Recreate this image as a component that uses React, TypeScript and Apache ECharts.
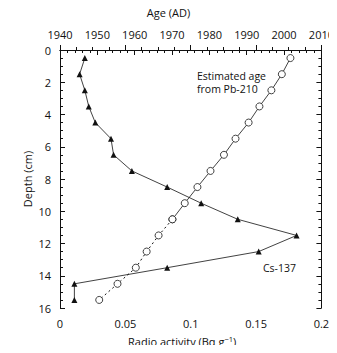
import React, { useEffect, useRef } from "react";
import * as echarts from "echarts";

const depths = [0.5, 1.5, 2.5, 3.5, 4.5, 5.5, 6.5, 7.5, 8.5, 9.5, 10.5, 11.5, 12.5, 13.5, 14.5, 15.5];
const cs137 = [0.019, 0.015, 0.019, 0.022, 0.027, 0.039, 0.041, 0.055, 0.082, 0.108, 0.136, 0.181, 0.152, 0.082, 0.011, 0.011];
const pbAge = [2001.7, 1999.4, 1996.6, 1993.4, 1990.5, 1987.0, 1983.9, 1980.3, 1976.8, 1973.4, 1970.1, 1966.4, 1963.2, 1960.3, 1955.4, 1950.5];
const solidUntilDepth = 10.5;
const activityTicks = ["0", "0.05", "0.1", "0.15", "0.2"];

const FONT = "'Open Sans', 'DejaVu Sans', sans-serif";
const BLACK = "#111";

export default function App() {
  const ref = useRef<HTMLDivElement>(null);
  useEffect(() => {
    if (!ref.current) return;
    const chart = echarts.init(ref.current, undefined, { renderer: "svg" });
    const csData = depths.map((d, i) => [cs137[i], d]);
    const pbSolid = depths.map((d, i) => [pbAge[i], d]).filter((p) => p[1] <= solidUntilDepth);
    const pbDotted = depths.map((d, i) => [pbAge[i], d]).filter((p) => p[1] >= solidUntilDepth);
    const axisCommon = {
      axisLine: { show: true, lineStyle: { color: BLACK, width: 1 } },
      axisTick: { show: true, inside: true, length: 5, lineStyle: { color: BLACK, width: 1 } },
      minorTick: { show: true, length: 3, lineStyle: { color: BLACK, width: 1 } },
      splitLine: { show: false },
      axisLabel: { color: BLACK, fontFamily: FONT, fontSize: 11 },
      nameTextStyle: { color: BLACK, fontFamily: FONT, fontSize: 11 },
      nameMoveOverlap: false,
    };
    const option: any = {
      animation: false,
      backgroundColor: "#fff",
      grid: { left: 60, right: 15, top: 50, bottom: 45 },
      xAxis: [
        {
          ...axisCommon,
          type: "value",
          position: "bottom",
          min: 0,
          max: 0.2,
          interval: 0.05,
          minorTick: { ...axisCommon.minorTick, splitNumber: 4 },
          axisLabel: {
            ...axisCommon.axisLabel,
            margin: 10,
            formatter: (v: number) => activityTicks[Math.round(v / 0.05)] ?? "",
          },
        },
        {
          ...axisCommon,
          type: "value",
          position: "top",
          min: 1940,
          max: 2010,
          interval: 10,
          minorTick: { ...axisCommon.minorTick, splitNumber: 5 },
          axisLabel: { ...axisCommon.axisLabel, margin: 10, formatter: (v: number) => String(v) },
        },
      ],
      yAxis: [
        {
          ...axisCommon,
          type: "value",
          position: "left",
          inverse: true,
          min: 0,
          max: 16,
          interval: 2,
          minorTick: { ...axisCommon.minorTick, splitNumber: 4 },
          axisLabel: { ...axisCommon.axisLabel, margin: 9 },
          name: "Depth (cm)",
          nameLocation: "middle",
          nameRotate: 90,
          nameGap: 27,
        },
        {
          ...axisCommon,
          type: "value",
          position: "right",
          inverse: true,
          min: 0,
          max: 16,
          interval: 2,
          minorTick: { ...axisCommon.minorTick, splitNumber: 4 },
          axisLabel: { show: false },
        },
      ],
      series: [
        {
          name: "Cs-137",
          type: "line",
          xAxisIndex: 0,
          yAxisIndex: 0,
          data: csData,
          symbol: "triangle",
          symbolSize: 6,
          itemStyle: { color: BLACK },
          lineStyle: { color: BLACK, width: 0.8 },
          z: 3,
        },
        {
          name: "Pb-210 solid",
          type: "line",
          xAxisIndex: 1,
          yAxisIndex: 0,
          data: pbSolid,
          symbol: "circle",
          symbolSize: 7,
          showAllSymbol: true,
          itemStyle: { color: "#fff", borderColor: BLACK, borderWidth: 0.8 },
          lineStyle: { color: BLACK, width: 0.8 },
          z: 4,
        },
        {
          name: "Pb-210 dotted",
          type: "line",
          xAxisIndex: 1,
          yAxisIndex: 0,
          data: pbDotted,
          symbol: "circle",
          symbolSize: 7,
          showAllSymbol: true,
          itemStyle: { color: "#fff", borderColor: BLACK, borderWidth: 0.8 },
          lineStyle: { color: BLACK, width: 1, type: [2, 3] },
          z: 4,
        },
      ],
      graphic: [
        {
          type: "text",
          left: "center",
          top: 7,
          style: { text: "Age (AD)", fontFamily: FONT, fontSize: 11, fill: BLACK },
        },
        {
          type: "text",
          left: 128,
          top: 335,
          style: {
            text: "Radio activity (Bq g{sup|−1})",
            fontFamily: FONT,
            fontSize: 11,
            fill: BLACK,
            rich: { sup: { fontSize: 7.5, fontFamily: FONT, fill: BLACK, padding: [0, 0, 5, 0] } },
          },
        },
        {
          type: "text",
          left: 197,
          top: 70,
          style: { text: "Estimated age", fontFamily: FONT, fontSize: 10.5, fill: BLACK },
        },
        {
          type: "text",
          left: 197,
          top: 83,
          style: { text: "from Pb-210", fontFamily: FONT, fontSize: 10.5, fill: BLACK },
        },
        {
          type: "text",
          left: 263,
          top: 262,
          style: { text: "Cs-137", fontFamily: FONT, fontSize: 10.5, fill: BLACK },
        },
      ],
    };
    chart.setOption(option);
    return () => chart.dispose();
  }, []);
  return <div ref={ref} style={{ width: 337, height: 353, margin: -8 }} />;
}
